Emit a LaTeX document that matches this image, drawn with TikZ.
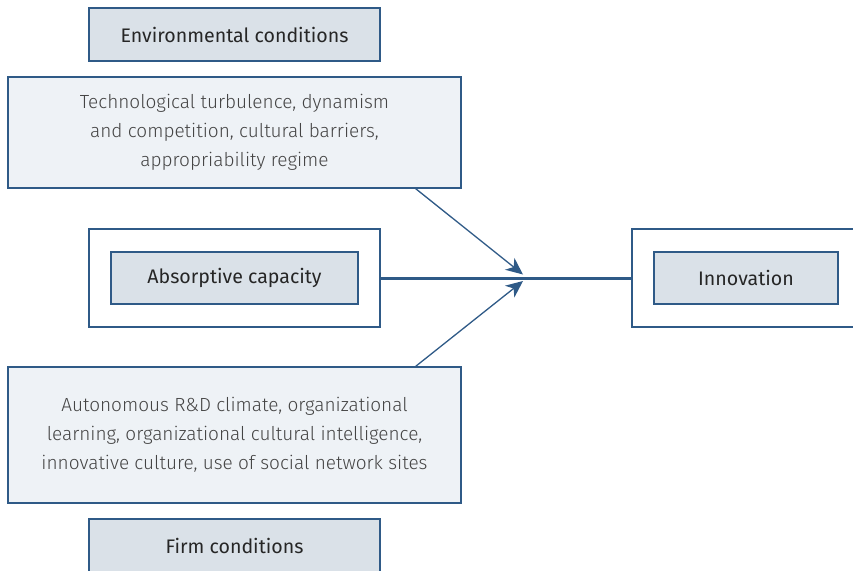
\documentclass[tikz,border=0pt]{standalone}
\usepackage{fontspec}
\setmainfont{Fira Sans}[UprightFont=* Light]
\newfontfamily\headfont{Fira Sans}
\usetikzlibrary{arrows.meta,positioning}
\definecolor{edge}{HTML}{2F5A87}
\definecolor{darkfill}{HTML}{DAE1E8}
\definecolor{lightfill}{HTML}{EEF2F6}
\definecolor{ink}{HTML}{262626}
\definecolor{softink}{HTML}{444444}
\tikzset{
  headbox/.style={draw=edge, line width=1.3pt, fill=darkfill, text=ink,
    font=\headfont\fontsize{19.6}{23}\selectfont, inner sep=0pt, align=center},
  factorbox/.style={draw=edge, line width=1.3pt, fill=lightfill, text=softink,
    font=\fontsize{19}{29}\selectfont, inner sep=0pt, align=center},
  framebox/.style={draw=edge, line width=1.3pt, fill=white, inner sep=0pt},
  mainline/.style={draw=edge, line width=3pt},
  feed/.style={draw=edge, line width=1.3pt, -{Stealth[length=17pt,width=15pt,inset=5pt]}}
}
\begin{document}
\begin{tikzpicture}[x=1pt,y=-1pt]
  \useasboundingbox (0,0) rectangle (853,570);
  % environmental side
  \node[headbox, minimum width=291pt, minimum height=53pt] (env) at (234.5,34.5) {Environmental conditions};
  \node[factorbox, minimum width=453pt, minimum height=111pt] (tech) at (234.5,132.5)
    {Technological turbulence, dynamism\\and competition, cultural barriers,\\appropriability regime};
  % central path
  \node[framebox, minimum width=291pt, minimum height=98pt] (absout) at (234.5,278) {};
  \node[headbox, minimum width=247pt, minimum height=52pt] (abs) at (234.5,278) {Absorptive capacity};
  \node[framebox, minimum width=240pt, minimum height=98pt] (innout) at (752,278) {};
  \node[headbox, minimum width=184pt, minimum height=52pt] (inn) at (746,278) {Innovation};
  % firm side
  \node[factorbox, minimum width=453pt, minimum height=136pt] (firmf) at (234.5,435)
    {Autonomous R\&D climate, organizational\\learning, organizational cultural intelligence,\\innovative culture, use of social network sites};
  \node[headbox, minimum width=291pt, minimum height=54pt] (firm) at (234.5,546) {Firm conditions};
  % connectors
  \coordinate (hubup) at (523,274.5);
  \coordinate (hubdown) at (523,281);
  \draw[mainline] (absout.east) -- (innout.west);
  \draw[feed] ([xshift=-46pt]tech.south east) -- (hubup);
  \draw[feed] ([xshift=-46pt]firmf.north east) -- (hubdown);
\end{tikzpicture}
\end{document}
